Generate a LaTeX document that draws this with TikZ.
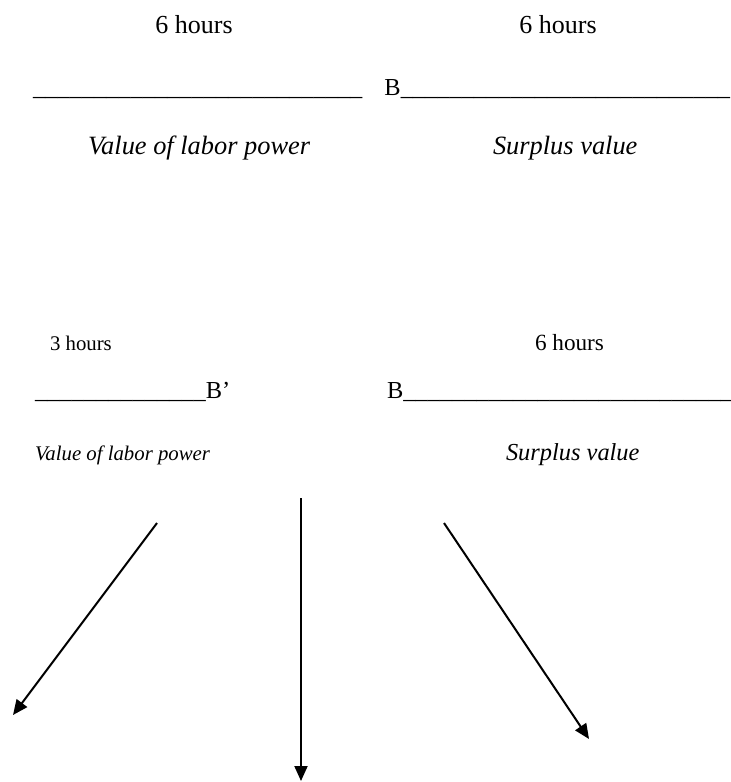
\documentclass[tikz,border=0pt]{standalone}
\usepackage{fontspec}
\setmainfont{Liberation Serif}
\usetikzlibrary{arrows.meta}
\tikzset{
  txt/.style={inner sep=0pt, outer sep=0pt},
  big/.style={txt, font=\fontsize{13}{15}\selectfont},
  reg/.style={txt, font=\fontsize{12.2}{14}\selectfont},
  mid/.style={txt, font=\fontsize{11.6}{14}\selectfont},
  small/.style={txt, font=\fontsize{10.4}{12}\selectfont},
  bigit/.style={txt, font=\fontsize{13.2}{15}\selectfont\itshape},
  regit/.style={txt, font=\fontsize{12.2}{14}\selectfont\itshape},
  smallit/.style={txt, font=\fontsize{10.4}{12}\selectfont\itshape},
  arr/.style={line width=1pt, -{Triangle[length=7.5pt,width=6.5pt]}}
}
\begin{document}
\begin{tikzpicture}[x=0.5pt,y=-0.5pt]
\useasboundingbox (0,0) rectangle (731,782);
% top block
\node[big, anchor=base] (h1) at (194,33) {6 hours};
\node[big, anchor=base] (h2) at (558,33) {6 hours};
\node[reg, anchor=base west] (l1) at (33,95) {\_\_\_\_\_\_\_\_\_\_\_\_\_\_\_\_\_\_\_\_\_\_\_\_\_\_\_ \hspace{8pt}B\_\_\_\_\_\_\_\_\_\_\_\_\_\_\_\_\_\_\_\_\_\_\_\_\_\_\_};
\node[bigit, anchor=base west] (v1) at (88,154) {Value of labor power};
\node[bigit, anchor=base west] (s1) at (493,154) {Surplus value};
% lower block
\node[small, anchor=base west] (h3) at (50,350) {3 hours};
\node[mid, anchor=base west] (h4) at (535,350) {6 hours};
\node[reg, anchor=base west] (l2) at (35,398) {\_\_\_\_\_\_\_\_\_\_\_\_\_\_B’};
\node[reg, anchor=base west] (l3) at (387,398) {B\_\_\_\_\_\_\_\_\_\_\_\_\_\_\_\_\_\_\_\_\_\_\_\_\_\_\_};
\node[smallit, anchor=base west] (v2) at (35,460) {Value of labor power};
\node[regit, anchor=base west] (s2) at (506,460) {Surplus value};
% arrows
\coordinate (a1s) at (157,523);
\coordinate (a1e) at (13,715);
\coordinate (a2s) at (301,498);
\coordinate (a2e) at (301,781);
\coordinate (a3s) at (444,523);
\coordinate (a3e) at (589,739);
\draw[arr] (a1s) -- (a1e);
\draw[arr] (a2s) -- (a2e);
\draw[arr] (a3s) -- (a3e);
\end{tikzpicture}
\end{document}
